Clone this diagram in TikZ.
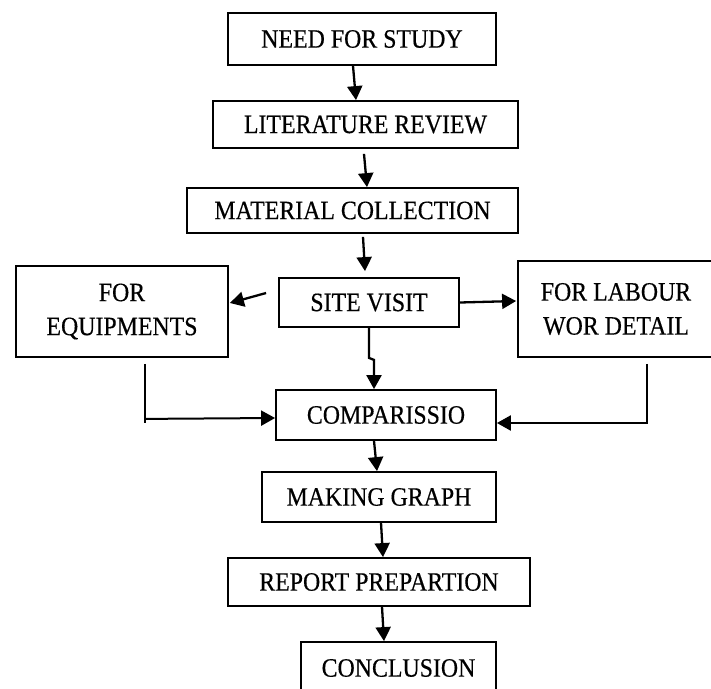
\documentclass[tikz,border=0pt]{standalone}
\usepackage{fontspec}
\setmainfont{Liberation Serif}[FakeStretch=0.9,FakeBold=0.4]
\usetikzlibrary{arrows.meta,calc}
\tikzset{
	stage/.style={draw, line width=1.8pt, inner sep=0pt, align=center,
		font=\fontsize{26.5}{34}\selectfont},
	arr/.style={line width=2.3pt, -{Triangle[width=15pt,length=14pt]}},
	link/.style={line width=1.6pt},
}
\begin{document}
\begin{tikzpicture}[x=1pt,y=-1pt]
			\useasboundingbox (0,0) rectangle (711,688);
			\node[stage, minimum width=268, minimum height=52] (need)   at (362,  39  )	{NEED FOR STUDY};
			\node[stage, minimum width=305, minimum height=47] (lit)    at (365.5,124.5)	{LITERATURE REVIEW};
			\node[stage, minimum width=331, minimum height=45] (mat)    at (352.5,210.5)	{MATERIAL COLLECTION};
			\node[stage, minimum width=180, minimum height=49] (site)   at (369,  302.5)	{SITE VISIT};
			\node[stage, minimum width=212, minimum height=91] (equip)  at (122,  311.5)	{FOR\\EQUIPMENTS};
			\node[stage, minimum width=196, minimum height=96] (labour) at (616,  309  )	{FOR LABOUR\\WOR DETAIL};
			\node[stage, minimum width=220, minimum height=50] (comp)   at (386,  415  )	{COMPARISSIO};
			\node[stage, minimum width=234, minimum height=50] (graph)  at (379,  497  )	{MAKING GRAPH};
			\node[stage, minimum width=302, minimum height=48] (report) at (379,  582  )	{REPORT PREPARTION};
			\node[stage, minimum width=195, minimum height=52] (concl)  at (398.5,668  )	{CONCLUSION};
			%
			\def\flow {need/-9/0/lit/-9.5/0, lit/-1.5/5/mat/14.5/0, mat/10.5/3/site/-4/-6, comp/-12/0/graph/-2/0, graph/2/0/report/4/0, report/3/0/concl/-14.5/0}  % down arrows
			\foreach \u/\ux/\uy/\v/\vx/\vy in \flow
			{	\draw[arr] ($(\u.south)+(\ux,\uy)$) -- ($(\v.north)+(\vx,\vy)$);
			}
			\draw[arr] ($(site.west)+(-12,-9.5)$) -- ($(equip.east)+(1,-8.5)$);
			\draw[arr] (site.east) -- ($(labour.west)+(-1,-8)$);
			\draw[arr] (site.south) -- ++(0,30) -- ++(5,2) -- ($(comp.north)+(-12,0)$);
			%
			\draw[link] ($(equip.south)+(23,6)$) -- ++(0,59);
			\draw[arr, line width=2pt] ($(equip.south)+(23,61)$) -- ($(comp.west)+(0,3)$);
			\draw[arr] ($(labour.south)+(31,6)$) |- ($(comp.east)+(0,8)$);
			%
		\end{tikzpicture}
\end{document}
